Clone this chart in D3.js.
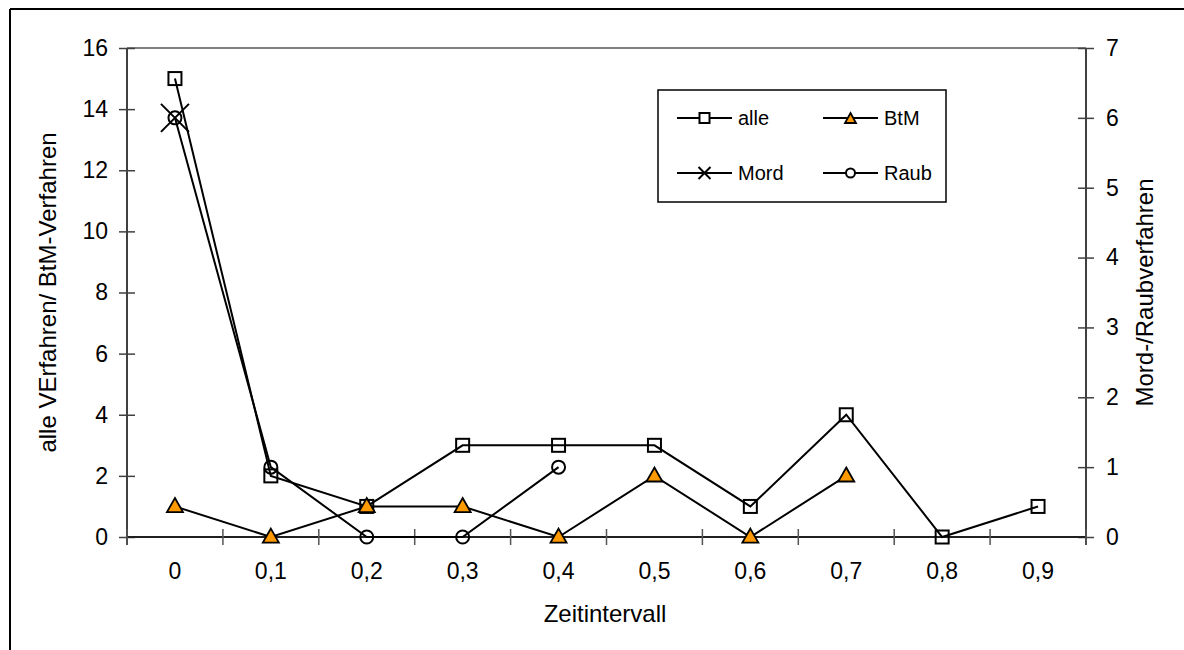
<!DOCTYPE html>
<html><head><meta charset="utf-8">
<script src="https://cdn.jsdelivr.net/npm/d3@7"></script>
<style>body{margin:0;background:#fff}svg{display:block;font-family:"Liberation Sans",Arial,sans-serif}</style>
</head><body>
<svg id="c" width="1184" height="650"></svg>
<script>
const categories = ["0","0,1","0,2","0,3","0,4","0,5","0,6","0,7","0,8","0,9"];
const alle = [15,2,1,3,3,3,1,4,0,1];
const btm  = [1,0,1,1,0,2,0,2,null,null];
const mord = [6,null,null,null,null,null,null,null,null,null];
const raub = [6,1,0,0,1,null,null,null,null,null];
const leftTicks = [0,2,4,6,8,10,12,14,16];
const rightTicks = [0,1,2,3,4,5,6,7];
const leftTitle = "alle VErfahren/ BtM-Verfahren";
const rightTitle = "Mord-/Raubverfahren";
const xTitle = "Zeitintervall";

const svg = d3.select("#c");
const L=127, R=1086, T=48, B=537;
const x = d3.scaleBand().domain(categories).range([L,R]);
const yL = d3.scaleLinear().domain([0,16]).range([B,T]);
const yR = d3.scaleLinear().domain([0,7]).range([B,T]);
const cx = c => x(c)+x.bandwidth()/2;

// outer frame
svg.append("line").attr("x1",10).attr("x2",10).attr("y1",9).attr("y2",650).attr("stroke","#000").attr("stroke-width",2);
svg.append("line").attr("x1",10).attr("x2",1184).attr("y1",9).attr("y2",9).attr("stroke","#000").attr("stroke-width",2);
// plot top border
svg.append("line").attr("x1",L).attr("x2",R).attr("y1",T).attr("y2",T).attr("stroke","#808080").attr("stroke-width",2);

const fs = 23, ft = 24;
// left axis
const gl = svg.append("g").attr("transform",`translate(${L},0)`)
  .call(d3.axisLeft(yL).tickValues(leftTicks).tickSize(8).tickPadding(12).tickFormat(d3.format("d")));
gl.select(".domain").remove();
gl.append("line").attr("y1",T).attr("y2",B+8).attr("stroke","#404040").attr("stroke-width",2);
gl.selectAll(".tick line").attr("x1",-8).attr("x2",8).attr("stroke","#404040").attr("stroke-width",1.5);
gl.selectAll(".tick text").attr("font-size",fs).attr("fill","#000").attr("font-family","Liberation Sans, Arial, sans-serif").attr("x",-19);

// right axis
const gr = svg.append("g").attr("transform",`translate(${R},0)`)
  .call(d3.axisRight(yR).tickValues(rightTicks).tickSize(8).tickFormat(d3.format("d")));
gr.select(".domain").remove();
gr.append("line").attr("y1",T).attr("y2",B+8).attr("stroke","#404040").attr("stroke-width",2);
gr.selectAll(".tick line").attr("x1",-8).attr("x2",8).attr("stroke","#404040").attr("stroke-width",1.5);
gr.selectAll(".tick text").attr("font-size",fs).attr("fill","#000").attr("font-family","Liberation Sans, Arial, sans-serif").attr("x",20);

// bottom axis
const gb = svg.append("g").attr("transform",`translate(0,${B})`)
  .call(d3.axisBottom(x).tickSize(0).tickPadding(26));
gb.select(".domain").remove();
gb.append("line").attr("x1",L).attr("x2",R).attr("stroke","#202020").attr("stroke-width",2);
gb.selectAll(".tick text").attr("font-size",fs).attr("fill","#000").attr("font-family","Liberation Sans, Arial, sans-serif");
const edges = categories.map(c=>x(c)).concat([R]);
gb.selectAll("line.edge").data(edges).enter().append("line").attr("class","edge")
  .attr("x1",d=>d).attr("x2",d=>d).attr("y1",-8).attr("y2",8).attr("stroke","#555").attr("stroke-width",1.5);

// titles
svg.append("text").attr("x",605).attr("y",622).attr("text-anchor","middle").attr("font-size",ft).text(xTitle);
svg.append("text").attr("transform",`translate(56,${(T+B)/2}) rotate(-90)`).attr("text-anchor","middle").attr("font-size",ft).text(leftTitle);
svg.append("text").attr("transform",`translate(1153,${(T+B)/2}) rotate(-90)`).attr("text-anchor","middle").attr("font-size",ft).text(rightTitle);

// series
function drawLine(vals, y){
  const line = d3.line().defined(d=>d.v!=null).x(d=>cx(d.c)).y(d=>y(d.v));
  svg.append("path").datum(categories.map((c,i)=>({c,v:vals[i]})))
    .attr("d",line).attr("fill","none").attr("stroke","#000").attr("stroke-width",2);
}
function pts(vals){ return categories.map((c,i)=>({c,v:vals[i]})).filter(d=>d.v!=null); }

drawLine(alle,yL); drawLine(btm,yL); drawLine(mord,yR); drawLine(raub,yR);

function square(g,x0,y0,s){ g.append("rect").attr("x",x0-s/2).attr("y",y0-s/2).attr("width",s).attr("height",s).attr("fill","none").attr("stroke","#000").attr("stroke-width",2); }
function tri(g,x0,y0,w,h){ g.append("path").attr("d",`M${x0},${y0-h*0.6}L${x0+w/2},${y0+h*0.4}L${x0-w/2},${y0+h*0.4}Z`).attr("fill","#FF9900").attr("stroke","#000").attr("stroke-width",1.8); }
function cross(g,x0,y0,s){ g.append("path").attr("d",`M${x0-s},${y0-s}L${x0+s},${y0+s}M${x0-s},${y0+s}L${x0+s},${y0-s}`).attr("stroke","#000").attr("stroke-width",2); }
function circ(g,x0,y0,r){ g.append("circle").attr("cx",x0).attr("cy",y0).attr("r",r).attr("fill","none").attr("stroke","#000").attr("stroke-width",2); }

const gm = svg.append("g");
pts(alle).forEach(d=>square(gm,cx(d.c),yL(d.v),13));
pts(btm).forEach(d=>tri(gm,cx(d.c),yL(d.v),16,14));
pts(mord).forEach(d=>cross(gm,cx(d.c),yR(d.v),14));
pts(raub).forEach(d=>circ(gm,cx(d.c),yR(d.v),6.5));

// legend
const lg = svg.append("g");
lg.append("rect").attr("x",658).attr("y",90).attr("width",288).attr("height",112).attr("fill","#fff").attr("stroke","#000").attr("stroke-width",1.5);
const legendItems = [
  {name:"alle", x:677, y:118, m:"sq"},
  {name:"BtM", x:823, y:118, m:"tri"},
  {name:"Mord", x:677, y:173, m:"x"},
  {name:"Raub", x:823, y:173, m:"c"}
];
legendItems.forEach(it=>{
  lg.append("line").attr("x1",it.x).attr("x2",it.x+55).attr("y1",it.y).attr("y2",it.y).attr("stroke","#000").attr("stroke-width",2);
  const mx = it.x+27.5;
  if(it.m==="sq") lg.append("rect").attr("x",mx-5).attr("y",it.y-5).attr("width",10).attr("height",10).attr("fill","#fff").attr("stroke","#000").attr("stroke-width",2);
  if(it.m==="tri") tri(lg,mx,it.y+1,11,10);
  if(it.m==="x") cross(lg,mx,it.y,6);
  if(it.m==="c") lg.append("circle").attr("cx",mx).attr("cy",it.y).attr("r",4.5).attr("fill","#fff").attr("stroke","#000").attr("stroke-width",2);
  lg.append("text").attr("x",it.x+61).attr("y",it.y+7).attr("font-size",20).text(it.name);
});
</script>
</body></html>
